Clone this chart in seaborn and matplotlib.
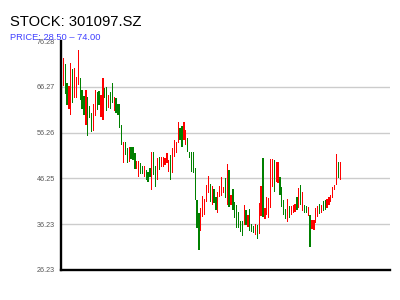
import matplotlib
matplotlib.use("Agg")
import matplotlib.pyplot as plt
import seaborn as sns
import pandas as pd

# ---- data ----
highs = [72.57, 71.26, 67.11, 66.45, 71.48, 70.17, 70.38, 68.42, 74.32, 68.20,
         65.57, 64.26, 65.57, 64.05, 62.08, 60.55, 62.51, 65.57, 65.14, 65.36,
         64.48, 68.20, 66.01, 66.23, 64.48, 65.14, 67.11, 64.05, 63.83, 62.51,
         62.51, 57.92, 54.21, 54.21, 52.90, 53.12, 53.12, 53.12, 51.80, 50.06,
         50.06, 49.62, 48.96, 48.96, 48.09, 47.65, 48.53, 52.02, 52.02, 48.96,
         50.71, 50.93, 50.93, 50.93, 50.71, 51.80, 50.27, 51.37, 52.90, 54.65,
         54.21, 58.58, 57.27, 57.71, 58.58, 56.83, 55.08, 52.02, 52.02, 52.02,
         48.53, 41.53, 38.69, 39.78, 42.41, 41.75, 44.81, 46.78, 45.03, 44.59,
         43.94, 42.19, 43.28, 44.59, 46.56, 44.37, 46.34, 49.40, 48.09, 42.62,
         43.94, 41.09, 40.44, 38.91, 36.94, 36.94, 40.44, 39.35, 38.25, 39.56,
         36.29, 35.85, 36.29, 36.07, 40.88, 44.59, 50.71, 39.78, 42.19, 41.97,
         50.49, 50.49, 50.27, 49.84, 49.84, 46.56, 44.37, 41.53, 39.56, 41.75,
         40.22, 40.22, 40.44, 40.66, 42.19, 44.15, 44.81, 43.28, 40.44, 40.22,
         40.00, 38.25, 37.16, 37.16, 39.78, 40.22, 40.66, 40.44, 41.31, 41.53,
         41.75, 42.19, 42.62, 44.37, 44.81, 51.59, 49.84, 49.84]
lows = [66.45, 64.70, 62.30, 61.42, 60.11, 62.73, 63.83, 63.83, 66.67, 63.39,
        61.42, 60.11, 57.92, 55.52, 59.46, 56.39, 56.61, 59.89, 61.20, 62.30,
        59.67, 59.02, 63.83, 60.98, 61.64, 61.42, 62.73, 60.98, 60.55, 60.11,
        57.27, 53.55, 49.62, 51.37, 49.62, 49.84, 50.49, 50.27, 48.31, 48.31,
        46.56, 47.21, 47.21, 46.56, 45.90, 45.47, 46.56, 43.72, 47.00, 44.37,
        45.90, 48.09, 48.74, 48.74, 49.18, 49.62, 47.65, 45.90, 47.43, 50.93,
        51.80, 53.99, 54.65, 53.12, 54.65, 53.55, 52.02, 50.71, 47.65, 47.43,
        41.53, 35.41, 30.60, 34.76, 37.82, 38.25, 41.09, 43.06, 41.09, 40.44,
        40.88, 39.35, 38.69, 42.19, 42.41, 43.06, 41.97, 40.44, 40.00, 40.44,
        39.35, 37.60, 35.41, 35.41, 34.54, 33.66, 36.07, 36.07, 35.63, 34.76,
        34.54, 34.32, 33.88, 33.01, 34.10, 38.03, 37.82, 37.38, 38.25, 37.60,
        39.78, 44.37, 43.28, 45.47, 45.25, 42.62, 40.00, 38.25, 37.38, 36.72,
        37.60, 38.25, 38.69, 38.91, 39.35, 39.78, 40.44, 39.13, 38.69, 38.69,
        38.03, 31.26, 35.19, 34.97, 36.50, 37.82, 38.47, 38.69, 39.13, 39.35,
        39.78, 40.44, 41.09, 41.97, 43.72, 44.81, 46.34, 45.90]
# R = closed up (red), G = closed down (green)
rising = ("RGGRRGRRRG" "GGRGGGRRGG" "RRGGRGGRGG" "GGRGGRGGGR" "RGGRGGGRGG"
          "RGRRRRRGRR" "RRGGRRGGGG" "GGGRRRRRGR" "GGRRRRGRGR" "GGGGGGRGRG"
          "GGRGRRGRRR" "RRGRRGGGGR" "GRRRGRGRGG" "RGRRRRGRGG" "RRRRRRGR")
yticks = [26.23, 36.23, 46.25, 56.26, 66.27, 76.28]
ytick_labels = ["26.23", "36.23", "46.25", "56.26", "66.27", "76.28"]
title = "STOCK: 301097.SZ"
subtitle = "PRICE: 28.50 \u2013 74.00"

df = pd.DataFrame({"high": highs, "low": lows, "dir": list(rising)})
df["idx"] = range(len(df))
df["color"] = df["dir"].map({"R": "#ff0000", "G": "#008000"})

sns.set_theme(style="white")
plt.rcParams["font.family"] = ["Liberation Sans", "DejaVu Sans"]

fig = plt.figure(figsize=(4, 3), dpi=100)
ax = fig.add_axes([0.1525, 0.1, 0.8225, 0.7633])

ax.bar(df["idx"], df["high"] - df["low"], bottom=df["low"],
       width=0.68, color=df["color"], linewidth=0)

for t in yticks[1:-1]:
    ax.axhline(t, color="#cccccc", linewidth=1.0, zorder=0)

ax.set_ylim(yticks[0], yticks[-1])
ax.set_xlim(-1.22, 173.4)
ax.set_yticks(yticks)
ax.set_yticklabels(ytick_labels)
ax.set_xticks([])
ax.tick_params(axis="y", length=0, pad=4.5, labelsize=5.2, labelcolor="#555555")

for side in ["top", "right"]:
    ax.spines[side].set_visible(False)
for side in ["left", "bottom"]:
    ax.spines[side].set_color("black")
    ax.spines[side].set_linewidth(1.7)

fig.text(10 / 400, 1 - 25.7 / 300, title, fontsize=10.6, color="black",
         va="baseline", ha="left")
fig.text(10 / 400, 1 - 40.2 / 300, subtitle, fontsize=6.7, color="#4040ff",
         va="baseline", ha="left")

fig.savefig("out.png", dpi=100, facecolor="white")
